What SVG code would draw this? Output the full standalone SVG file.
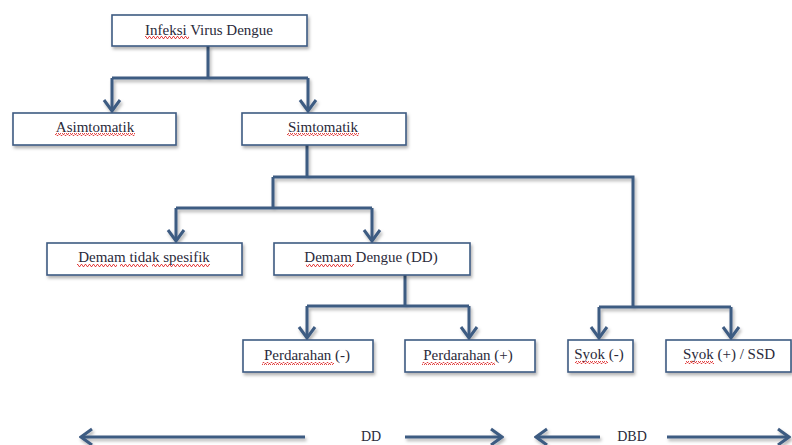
<svg xmlns="http://www.w3.org/2000/svg" width="792" height="445" viewBox="0 0 792 445">
<defs>
<style>
.box{fill:#ffffff;stroke:#3e5b82;stroke-width:1.6;filter:url(#sh)}
.lbl{font-family:"Liberation Serif","Times New Roman",serif;font-size:15px;fill:#2a2a3a;text-anchor:middle}
.con{fill:none;stroke:#3e5b82;stroke-width:3;stroke-linejoin:miter}
.arr{marker-end:url(#ah)}
.sq{fill:url(#wave)}
</style>
<filter id="sh" x="-10%" y="-20%" width="120%" height="150%">
<feDropShadow dx="1.5" dy="2.5" stdDeviation="1.5" flood-color="#000" flood-opacity="0.3"/>
</filter>
<marker id="ah" viewBox="-14 -10 16 20" markerWidth="16" markerHeight="20" refX="0" refY="0" orient="auto" markerUnits="userSpaceOnUse">
<path d="M -11 -8 L 0 0 L -11 8" fill="none" stroke="#3e5b82" stroke-width="3"/>
</marker>
<pattern id="wave" x="0" y="0" width="4" height="3" patternUnits="userSpaceOnUse">
<polyline points="0,2.5 1,0.5 2,0.5 3,2.5 4,2.5" fill="none" stroke="#e03030" stroke-width="0.9"/>
</pattern>
</defs>

<g id="connectors" filter="url(#sh)">
<path class="con" d="M208 46 V78 M112 78 H308"/>
<path class="con arr" d="M112 78 V111"/>
<path class="con arr" d="M308 78 V111"/>
<path class="con" d="M307 145 V177 M273 177 H633 V307 M273 177 V208 M176 208 H372"/>
<path class="con arr" d="M176 208 V241"/>
<path class="con arr" d="M372 208 V241"/>
<path class="con" d="M405 275 V306 M307 306 H469"/>
<path class="con arr" d="M307 306 V338"/>
<path class="con arr" d="M469 306 V338"/>
<path class="con" d="M599 307 H731"/>
<path class="con arr" d="M599 307 V338"/>
<path class="con arr" d="M731 307 V338"/>
<path class="con arr" d="M305 437 H81"/>
<path class="con arr" d="M405 437 H502"/>
<path class="con arr" d="M600 437 H536"/>
<path class="con arr" d="M667 437 H789"/>
</g>

<g id="n-infeksi">
<rect class="box" x="112" y="15" width="195" height="31"/>
<text class="lbl" x="209" y="35">Infeksi Virus Dengue</text>
<rect class="sq" x="145" y="36" width="44" height="3"/>
</g>
<g id="n-asimtomatik">
<rect class="box" x="13" y="113" width="163" height="32"/>
<text class="lbl" x="95" y="132">Asimtomatik</text>
<rect class="sq" x="55" y="133" width="80" height="3"/>
</g>
<g id="n-simtomatik">
<rect class="box" x="242" y="113" width="164" height="32"/>
<text class="lbl" x="323" y="132">Simtomatik</text>
<rect class="sq" x="287" y="133" width="72" height="3"/>
</g>
<g id="n-demam-tidak">
<rect class="box" x="47" y="243" width="195" height="32"/>
<text class="lbl" x="144" y="262">Demam tidak spesifik</text>
<rect class="sq" x="77" y="264" width="40" height="3"/>
<rect class="sq" x="120" y="264" width="28" height="3"/>
<rect class="sq" x="152" y="264" width="58" height="3"/>
</g>
<g id="n-demam-dengue">
<rect class="box" x="274" y="243" width="196" height="32"/>
<text class="lbl" x="371" y="262">Demam Dengue (DD)</text>
<rect class="sq" x="306" y="264" width="48" height="3"/>
</g>
<g id="n-perdarahan-neg">
<rect class="box" x="243" y="340" width="130" height="32"/>
<text class="lbl" x="307" y="360">Perdarahan (-)</text>
<rect class="sq" x="262" y="362" width="72" height="3"/>
</g>
<g id="n-perdarahan-pos">
<rect class="box" x="405" y="340" width="130" height="32"/>
<text class="lbl" x="468" y="360">Perdarahan (+)</text>
<rect class="sq" x="422" y="362" width="73" height="3"/>
</g>
<g id="n-syok-neg">
<rect class="box" x="568" y="340" width="65" height="32"/>
<text class="lbl" x="599" y="359">Syok (-)</text>
<rect class="sq" x="575" y="361" width="33" height="3"/>
</g>
<g id="n-syok-pos">
<rect class="box" x="666" y="340" width="125" height="32"/>
<text class="lbl" x="729" y="359">Syok (+) / SSD</text>
<rect class="sq" x="685" y="361" width="29" height="3"/>
</g>

<g id="labels">
<text class="lbl" x="371" y="441" style="font-size:14px">DD</text>
<text class="lbl" x="632" y="441" style="font-size:14px">DBD</text>
</g>
</svg>
